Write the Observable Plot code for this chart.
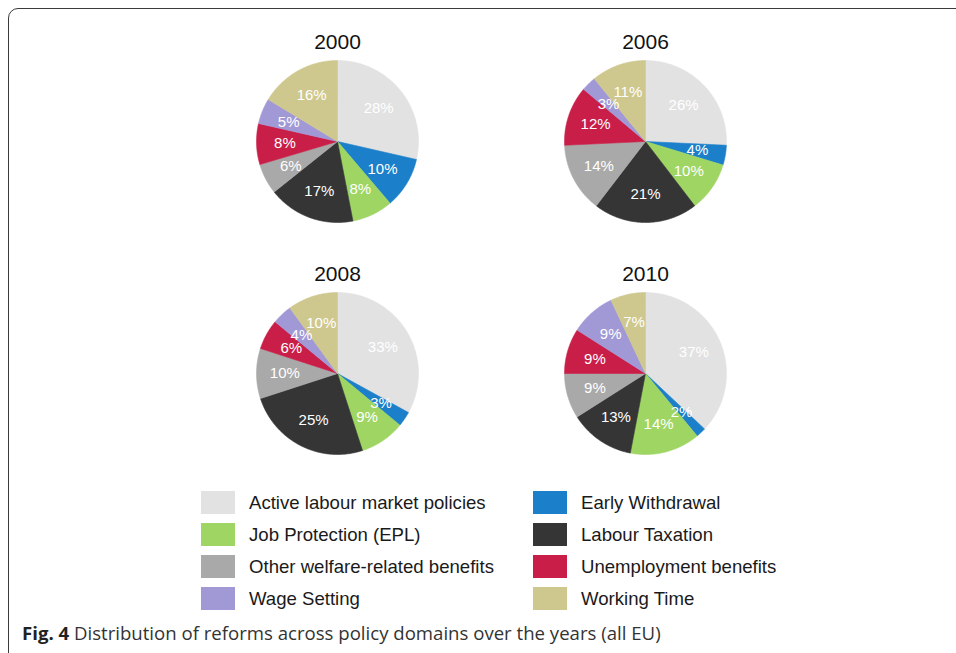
<!DOCTYPE html>
<html>
<head>
<meta charset="utf-8">
<script src="https://cdn.jsdelivr.net/npm/d3@7"></script>
<script src="https://cdn.jsdelivr.net/npm/@observablehq/plot@0.6"></script>
<style>
  html, body { margin: 0; padding: 0; background: #fff; }
  #page { position: relative; width: 956px; height: 653px; overflow: hidden; background: #fff; }
  #frame { position: absolute; left: 8px; top: 8px; width: 1100px; height: 800px;
           border: 1.6px solid #3a3a3a; border-top-left-radius: 10px; box-sizing: border-box; }
  #chart { position: absolute; left: 183px; top: 25px; }
  #chart svg { overflow: visible; }
  .lg-item { position: absolute; height: 23px; display: flex; align-items: center;
             font-family: "Liberation Sans", Arial, sans-serif; font-size: 18.6px; color: #1a1a1a; white-space: nowrap; }
  .lg-sw { width: 34px; height: 23px; margin-right: 14px; flex: none; }
  #caption { position: absolute; left: 22px; top: 620px; font-family: "Open Sans", sans-serif;
             font-size: 18.6px; color: #333; white-space: nowrap; }
  #caption b { color: #222; font-weight: 700; }
</style>
</head>
<body>
<div id="page">
  <div id="frame"></div>
  <div id="chart"></div>
  <div id="legend"></div>
  <div id="caption"><b>Fig. 4</b> Distribution of reforms across policy domains over the years (all EU)</div>
</div>
<script>
// ---- data ----
const domains = [
  "Active labour market policies",
  "Early Withdrawal",
  "Job Protection (EPL)",
  "Labour Taxation",
  "Other welfare-related benefits",
  "Unemployment benefits",
  "Wage Setting",
  "Working Time"
];
const colors = ["#e2e2e2", "#1b80c9", "#9ed563", "#353535", "#a9a9a9", "#c81e48", "#a199d6", "#cfc88e"];
const years = ["2000", "2006", "2008", "2010"];
const values2000 = [28, 10, 8, 17, 6, 8, 5, 16];
const values2006 = [26, 4, 10, 21, 14, 12, 3, 11];
const values2008 = [33, 3, 9, 25, 10, 6, 4, 10];
const values2010 = [37, 2, 14, 13, 9, 9, 9, 7];
const seriesByYear = [values2000, values2006, values2008, values2010];
// legend layout order (two columns, row-major)
const legendOrder = [0, 1, 2, 3, 4, 5, 6, 7];

// ---- build pie geometry through d3.pie ----
const pie = d3.pie().sort(null).value(d => d.value);
const sliceRows = [];
const labelRows = [];
const titleRows = [];
years.forEach((year, yi) => {
  const col = yi % 2, row = Math.floor(yi / 2);
  titleRows.push({year, col, row});
  const arcs = pie(domains.map((domain, i) => ({domain, value: seriesByYear[yi][i]})));
  arcs.forEach((a, si) => {
    const key = year + "-" + si;
    sliceRows.push({key, domain: a.data.domain, col, row, x: 0, y: 0});
    const n = Math.max(2, Math.ceil((a.endAngle - a.startAngle) / 0.01));
    for (let k = 0; k <= n; k++) {
      const t = a.startAngle + (a.endAngle - a.startAngle) * k / n;
      sliceRows.push({key, domain: a.data.domain, col, row, x: Math.sin(t), y: Math.cos(t)});
    }
    sliceRows.push({key, domain: a.data.domain, col, row, x: 0, y: 0});
    const m = (a.startAngle + a.endAngle) / 2;
    labelRows.push({col, row, x: 0.65 * Math.sin(m), y: 0.65 * Math.cos(m), text: a.data.value + "%"});
  });
});

const R = 81, cellW = 308, cellH = 232;
const chart = Plot.plot({
  width: cellW * 2,
  height: cellH * 2,
  margin: 0,
  style: {fontFamily: "'Liberation Sans', Arial, sans-serif", background: "transparent"},
  fx: {axis: null, padding: 0, domain: [0, 1]},
  fy: {axis: null, padding: 0, domain: [0, 1]},
  x: {axis: null, domain: [-cellW / 2 / R, cellW / 2 / R]},
  y: {axis: null, domain: [-cellH / 2 / R, cellH / 2 / R]},
  color: {domain: domains, range: colors},
  marks: [
    Plot.line(sliceRows, {x: "x", y: "y", z: "key", fx: "col", fy: "row", fill: "domain", stroke: "domain", strokeWidth: 0.6, curve: "linear"}),
    Plot.text(labelRows, {x: "x", y: "y", fx: "col", fy: "row", text: "text", fill: "white", fontSize: 15}),
    Plot.text(titleRows, {fx: "col", fy: "row", text: "year", frameAnchor: "top", dy: 9, fontSize: 21, fontWeight: "normal", fill: "#111"})
  ]
});
document.getElementById("chart").appendChild(chart);

// ---- legend ----
const legend = document.getElementById("legend");
legendOrder.forEach((di, i) => {
  const col = i % 2, row = Math.floor(i / 2);
  const item = document.createElement("div");
  item.className = "lg-item";
  item.style.left = (col === 0 ? 201 : 533) + "px";
  item.style.top = (491 + row * 32) + "px";
  const sw = document.createElement("div");
  sw.className = "lg-sw";
  sw.style.background = colors[di];
  const label = document.createElement("span");
  label.textContent = domains[di];
  item.appendChild(sw);
  item.appendChild(label);
  legend.appendChild(item);
});
</script>
</body>
</html>
